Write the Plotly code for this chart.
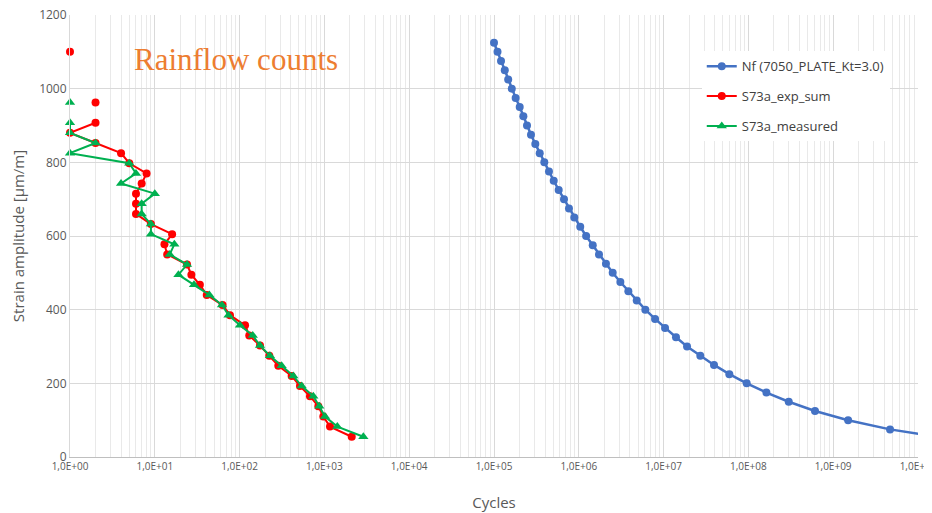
import plotly.graph_objects as go

# Strain amplitude levels for rainflow counts [µm/m]
levels = [1100, 1072.5, 1045, 1017.5, 990, 962.5, 935, 907.5, 880, 852.5, 825,
          797.5, 770, 742.5, 715, 687.5, 660, 632.5, 605, 577.5, 550, 522.5,
          495, 467.5, 440, 412.5, 385, 357.5, 330, 302.5, 275, 247.5, 220,
          192.5, 165, 137.5, 110, 82.5, 55]

# S73a_exp_sum cycles (None = zero count, not plottable on log axis)
exp_sum = [1, None, None, None, None, 2, None, 2, 1, 2, 4,
           5, 8, 7, 6, 6, 6, 9, 16, 13, 14, 24,
           27, 34, 41, 63, 77, 116, 130, 174, 224, 286, 411,
           515, 676, 848, 971, 1164, 2100]

# S73a_measured cycles
measured = [None, None, None, None, None, 1, None, 1, 1, 2, 1,
            5, 6, 4, 10, 7, 7, 9, 9, 17, 15, 24,
            19, 29, 44, 62, 74, 101, 143, 174, 228, 313, 430,
            540, 740, 870, 1016, 1420, 2880]

# Nf curve (7050_PLATE_Kt=3.0)
nf_amp = [1125, 1100, 1075, 1050, 1025, 1000, 975, 950, 925, 900, 875, 850,
          825, 800, 775, 750, 725, 700, 675, 650, 625, 600, 575, 550, 525,
          500, 475, 450, 425, 400, 375, 350, 325, 300, 275, 250, 225, 200,
          175, 150, 125, 100, 75, 50]
nf_cycles = [1.00e5, 1.10e5, 1.21e5, 1.34e5, 1.47e5, 1.62e5, 1.80e5, 2.01e5,
             2.22e5, 2.45e5, 2.73e5, 3.07e5, 3.46e5, 3.92e5, 4.45e5, 5.06e5,
             5.79e5, 6.69e5, 7.66e5, 8.85e5, 1.04e6, 1.22e6, 1.46e6, 1.73e6,
             2.09e6, 2.51e6, 3.09e6, 3.84e6, 4.82e6, 6.09e6, 7.93e6, 1.04e7,
             1.40e7, 1.89e7, 2.71e7, 3.93e7, 5.96e7, 9.55e7, 1.63e8, 2.99e8,
             6.10e8, 1.50e9, 4.68e9, 2.30e10]

x_tickvals = [1e0, 1e1, 1e2, 1e3, 1e4, 1e5, 1e6, 1e7, 1e8, 1e9, 1e10]
x_ticktext = ["1,0E+00", "1,0E+01", "1,0E+02", "1,0E+03", "1,0E+04", "1,0E+05",
              "1,0E+06", "1,0E+07", "1,0E+08", "1,0E+09", "1,0E+10"]
y_tickvals = [0, 200, 400, 600, 800, 1000, 1200]

fig = go.Figure()

fig.add_trace(go.Scatter(
    x=nf_cycles, y=nf_amp, mode="lines+markers",
    name="Nf (7050_PLATE_Kt=3.0)", legendgroup="a",
    line=dict(color="#4472C4", width=2.5),
    marker=dict(color="#4472C4", size=8),
))
fig.add_trace(go.Scatter(
    x=exp_sum, y=levels, mode="lines+markers",
    name="S73a_exp_sum", legendgroup="b",
    line=dict(color="#FF0000", width=2),
    marker=dict(color="#FF0000", size=8),
    connectgaps=False, cliponaxis=False,
))
fig.add_trace(go.Scatter(
    x=measured, y=levels, mode="lines+markers",
    name="S73a_measured", legendgroup="c",
    line=dict(color="#00B050", width=2),
    marker=dict(color="#00B050", size=9, symbol="triangle-up"),
    connectgaps=False, cliponaxis=False,
))

fig.add_annotation(
    text="Rainflow counts", xref="paper", yref="paper",
    x=(132 - 70) / 848, y=(457 - 60) / 442, xanchor="left", yanchor="middle",
    showarrow=False,
    font=dict(family="Liberation Serif", size=31, color="#ED7D31"),
)

# page body has an 8px margin, so the figure is sized to fit the 932x513 window
fig.update_layout(
    width=924, height=505,
    margin=dict(l=62, r=14, t=7, b=56, autoexpand=False),
    paper_bgcolor="white", plot_bgcolor="white",
    font=dict(family="Open Sans", color="#595959"),
    showlegend=True,
    legend=dict(
        x=0.745, y=0.918, xanchor="left", yanchor="top",
        bgcolor="white", borderwidth=0,
        font=dict(size=13, color="#404040"),
        tracegroupgap=10, itemwidth=30,
    ),
    xaxis=dict(
        type="log", range=[0, 10], automargin=False,
        tickvals=x_tickvals, ticktext=x_ticktext, ticklabeloverflow="allow",
        tickfont=dict(size=10, color="#595959"),
        showgrid=True, gridcolor="#D9D9D9", gridwidth=1,
        minor=dict(showgrid=True, gridcolor="#E9E9E9", gridwidth=1, dtick="D1"),
        showline=True, linecolor="#BFBFBF", linewidth=1,
        zeroline=False, ticks="",
        title=dict(text="Cycles", font=dict(size=15, color="#595959"), standoff=25),
    ),
    yaxis=dict(
        range=[0, 1200], tickvals=y_tickvals, automargin=False,
        ticklabeloverflow="allow",
        tickfont=dict(size=12, color="#595959"),
        showgrid=True, gridcolor="#D9D9D9", gridwidth=1,
        showline=True, linecolor="#D9D9D9", linewidth=1,
        zeroline=False, ticks="", ticklabelstandoff=0,
        title=dict(text="Strain amplitude [µm/m]", font=dict(size=15, color="#595959"), standoff=12),
    ),
)

fig.write_html("out.html")
